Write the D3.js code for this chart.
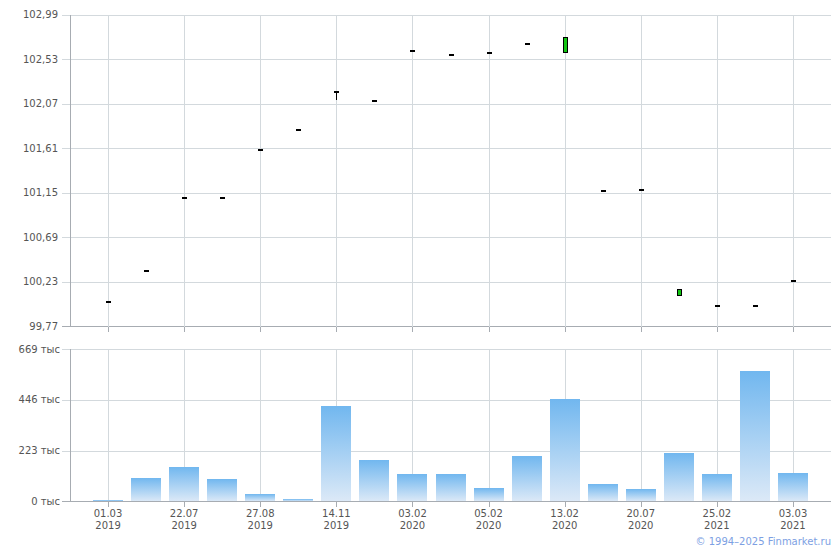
<!DOCTYPE html>
<html><head><meta charset="utf-8">
<script src="https://cdn.jsdelivr.net/npm/d3@7"></script>
<style>
html,body{margin:0;padding:0;background:#fff;}
svg{display:block;font-family:"DejaVu Sans",Verdana,sans-serif;}
</style></head>
<body><svg id="c" width="840" height="550"></svg>
<script>
// ---- data ----
const tickLabels = ["01.03\n2019","","22.07\n2019","","27.08\n2019","","14.11\n2019","","03.02\n2020","","05.02\n2020","","13.02\n2020","","20.07\n2020","","25.02\n2021","","03.03\n2021"];
const openVals  = [100.03,100.35,101.10,101.10,101.60,101.81,102.20,102.11,102.63,102.58,102.60,102.70,102.60,101.18,101.19,100.09,99.99,99.99,100.25];
const highVals  = [100.03,100.35,101.10,101.10,101.60,101.81,102.20,102.11,102.63,102.58,102.60,102.70,102.76,101.18,101.19,100.15,99.99,99.99,100.25];
const lowVals   = [100.03,100.35,101.10,101.10,101.60,101.81,102.11,102.11,102.63,102.58,102.60,102.70,102.60,101.18,101.19,100.09,99.99,99.99,100.25];
const closeVals = [100.03,100.35,101.10,101.10,101.60,101.81,102.20,102.11,102.63,102.58,102.60,102.70,102.76,101.18,101.19,100.15,99.99,99.99,100.25];
const volumeVals = [5,103,151,98,32,10,419,182,120,120,58,199,450,76,54,213,120,573,125]; // тыс
const priceTicks = [99.77,100.23,100.69,101.15,101.61,102.07,102.53,102.99];
const volumeTicks = [0,223,446,669];

const svg = d3.select("#c");
const gridCol = "#d3d9dd", axisCol = "#a7acb2", textCol = "#555";
const idx = d3.range(tickLabels.length);
const x = d3.scalePoint().domain(idx).range([70, 831]).padding(1);
const labeled = idx.filter(i => tickLabels[i] !== "");
const L = 70, R = 831;

// ---- price panel ----
const yP = d3.scaleLinear().domain([99.77, 102.99]).range([326, 14.7]);
const gP = svg.append("g").attr("shape-rendering","crispEdges");
gP.selectAll(".hg").data(priceTicks).join("line")
  .attr("x1", L-8).attr("x2", R).attr("y1", d=>Math.round(yP(d))+0.5).attr("y2", d=>Math.round(yP(d))+0.5)
  .attr("stroke", (d,i)=> i===0 ? axisCol : gridCol);
gP.selectAll(".vg").data(labeled).join("line")
  .attr("x1", d=>Math.round(x(d))+0.5).attr("x2", d=>Math.round(x(d))+0.5)
  .attr("y1", yP(102.99)).attr("y2", 332)
  .attr("stroke", (d)=>gridCol);
gP.selectAll(".vt").data(labeled).join("line")
  .attr("x1", d=>Math.round(x(d))+0.5).attr("x2", d=>Math.round(x(d))+0.5)
  .attr("y1", 327).attr("y2", 332).attr("stroke", axisCol);
gP.append("line").attr("x1", L+0.5).attr("x2", L+0.5).attr("y1", yP(102.99)).attr("y2", 327).attr("stroke", axisCol);
svg.append("g").selectAll("text").data(priceTicks).join("text")
  .attr("x", 58).attr("y", d=>yP(d)+3.5).attr("text-anchor","end")
  .attr("font-size","10px").attr("fill", textCol)
  .text(d=>d.toFixed(2).replace(".", ","));

// candles
const gC = svg.append("g").attr("shape-rendering","crispEdges");
idx.forEach(i=>{
  const cx = Math.round(x(i));
  const o = openVals[i], c = closeVals[i], h = highVals[i], l = lowVals[i];
  if (h !== l) {
    gC.append("line").attr("x1", cx+0.5).attr("x2", cx+0.5)
      .attr("y1", Math.round(yP(h))).attr("y2", Math.round(yP(l))).attr("stroke","#000");
  }
  if (Math.abs(yP(o) - yP(c)) >= 2) {
    const top = Math.round(yP(Math.max(o,c))), bot = Math.round(yP(Math.min(o,c)));
    gC.append("rect").attr("x", cx-1.5).attr("y", top+0.5).attr("width", 4).attr("height", bot-top)
      .attr("fill", c>o ? "#12c512" : "#e02020").attr("stroke","#000").attr("stroke-width",1.2);
  } else {
    gC.append("rect").attr("x", cx-2).attr("y", Math.round(yP(c))).attr("width", 5).attr("height", 1.5).attr("fill","#000");
  }
});

// ---- volume panel ----
const yV = d3.scaleLinear().domain([0, 669]).range([501.3, 349.3]);
const defs = svg.append("defs");
const grad = defs.append("linearGradient").attr("id","vg").attr("x1",0).attr("y1",0).attr("x2",0).attr("y2",1);
grad.append("stop").attr("offset","0%").attr("stop-color","#71b7ef");
grad.append("stop").attr("offset","100%").attr("stop-color","#dce9f7");
const gV = svg.append("g").attr("shape-rendering","crispEdges");
gV.selectAll(".hg").data(volumeTicks).join("line")
  .attr("x1", L-8).attr("x2", R).attr("y1", d=>Math.round(yV(d))+0.5).attr("y2", d=>Math.round(yV(d))+0.5)
  .attr("stroke", (d,i)=> i===0 ? axisCol : gridCol);
gV.selectAll(".vg").data(labeled).join("line")
  .attr("x1", d=>Math.round(x(d))+0.5).attr("x2", d=>Math.round(x(d))+0.5)
  .attr("y1", yV(669)).attr("y2", 501).attr("stroke", gridCol);
svg.append("g").attr("shape-rendering","crispEdges").selectAll("rect").data(idx).join("rect")
  .attr("x", i=>Math.round(x(i))-15).attr("width", 30)
  .attr("y", i=>yV(volumeVals[i])).attr("height", i=>yV(0)-yV(volumeVals[i]))
  .attr("fill","url(#vg)");
const gV2 = svg.append("g").attr("shape-rendering","crispEdges");
gV2.append("line").attr("x1", L-8).attr("x2", R).attr("y1", Math.round(yV(0))+0.5).attr("y2", Math.round(yV(0))+0.5).attr("stroke", axisCol);
gV2.append("line").attr("x1", L+0.5).attr("x2", L+0.5).attr("y1", yV(669)).attr("y2", Math.round(yV(0))+1).attr("stroke", axisCol);
gV2.selectAll(".vt").data(labeled).join("line")
  .attr("x1", d=>Math.round(x(d))+0.5).attr("x2", d=>Math.round(x(d))+0.5)
  .attr("y1", 502).attr("y2", 507).attr("stroke", axisCol);
svg.append("g").selectAll("text").data(volumeTicks).join("text")
  .attr("x", 60).attr("y", d=>yV(d)+3.5).attr("text-anchor","end")
  .attr("font-size","10px").attr("fill", textCol)
  .text(d=>d + " тыс");

// x labels
const gX = svg.append("g");
labeled.forEach(i=>{
  const parts = tickLabels[i].split("\n");
  gX.append("text").attr("x", x(i)).attr("y", 517).attr("text-anchor","middle")
    .attr("font-size","10px").attr("fill", textCol).text(parts[0]);
  gX.append("text").attr("x", x(i)).attr("y", 529).attr("text-anchor","middle")
    .attr("font-size","10px").attr("fill", textCol).text(parts[1]);
});

svg.append("text").attr("x", 831).attr("y", 545).attr("text-anchor","end")
  .attr("font-size","10px").attr("fill","#7d9fe3").text("© 1994–2025 Finmarket.ru");
</script></body></html>
